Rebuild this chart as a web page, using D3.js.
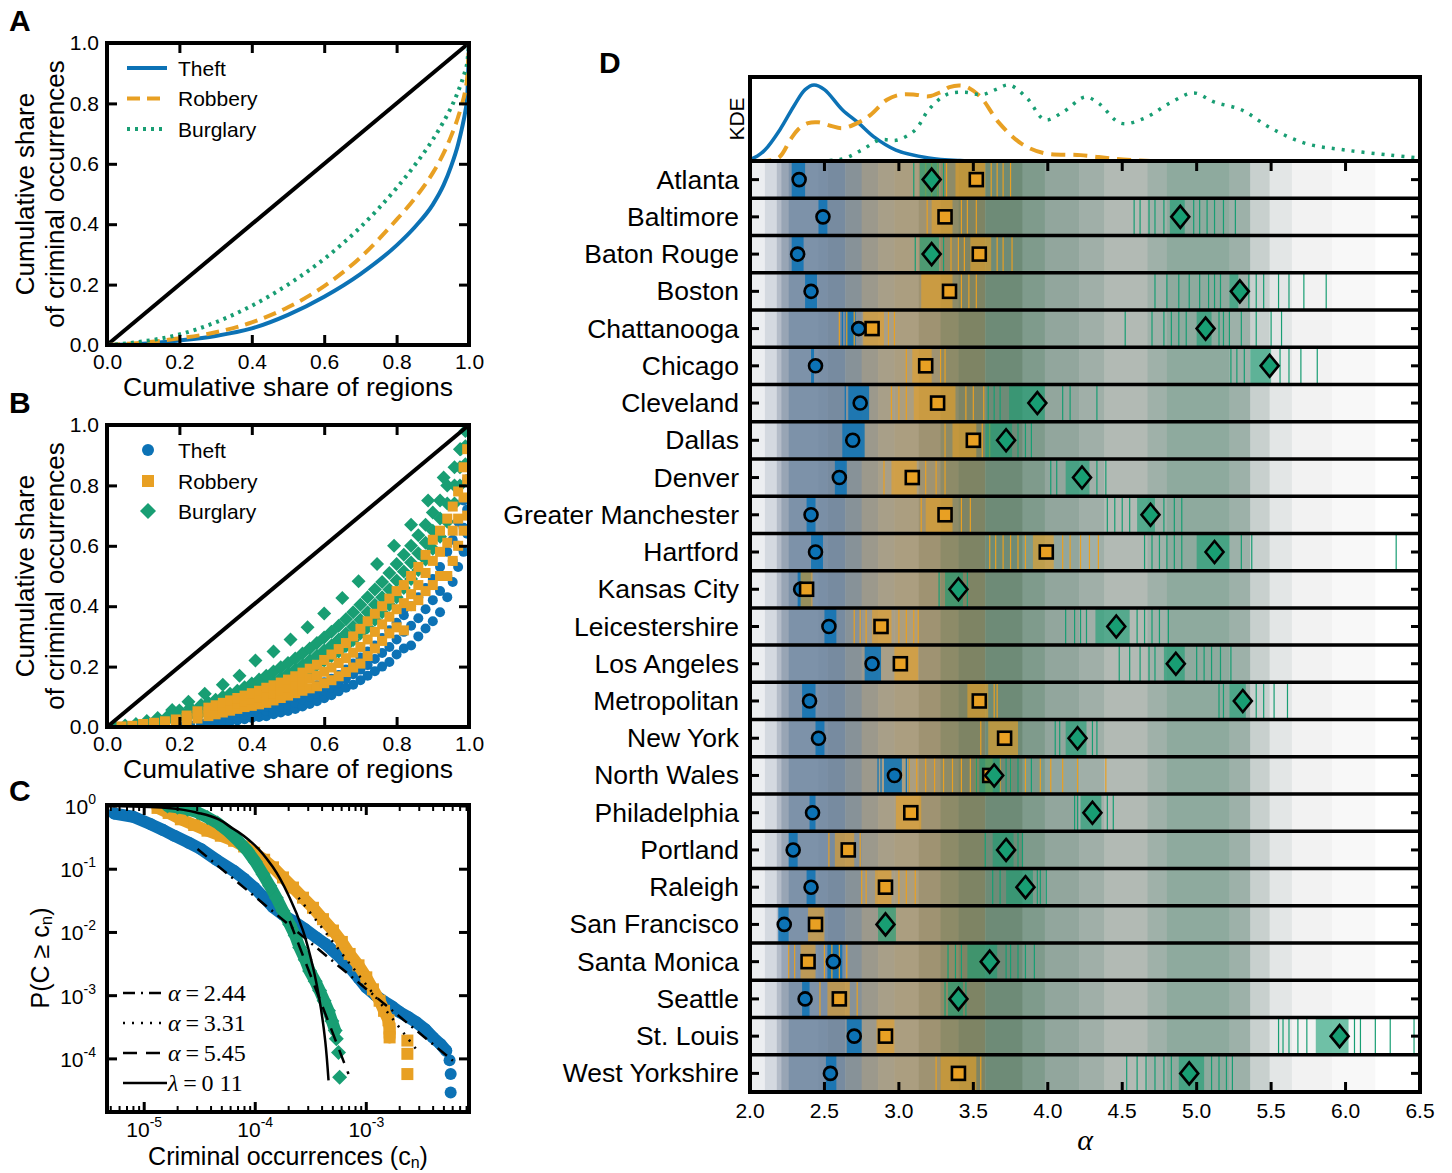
<!DOCTYPE html>
<html><head><meta charset="utf-8">
<script src="https://cdn.jsdelivr.net/npm/d3@7"></script>
<style>
body{margin:0;background:#fff}
svg{display:block}
text{font-family:"Liberation Sans",Arial,Helvetica,sans-serif;fill:#000}
</style>
</head><body>
<svg id="c" width="1452" height="1173"></svg>
<script>
// ---------------- DATA ----------------
// Panel A: Lorenz curves
const lorenzX        = [0,0.1,0.2,0.3,0.4,0.5,0.6,0.7,0.8,0.85,0.9,0.93,0.95,0.97,0.98,0.99,0.995,1.0];
const lorenzTheft    = [0,0.004,0.015,0.03,0.055,0.1,0.16,0.235,0.33,0.39,0.465,0.53,0.59,0.665,0.715,0.775,0.82,1.0];
const lorenzRobbery  = [0,0.008,0.022,0.042,0.075,0.125,0.195,0.29,0.415,0.485,0.57,0.635,0.69,0.755,0.795,0.845,0.885,1.0];
const lorenzBurglary = [0,0.012,0.035,0.075,0.13,0.2,0.285,0.39,0.52,0.595,0.68,0.74,0.785,0.84,0.872,0.91,0.935,1.0];
const crimeNames = ["Theft","Robbery","Burglary"];
const axisTicks01 = [0,0.2,0.4,0.6,0.8,1.0];

// Panel B: city Lorenz points, [x, [y values]]
const theftB = [[0.2,[0.002]],[0.23,[0.003,0.006]],[0.26,[0.005,0.012]],[0.28,[0.008,0.017]],[0.3,[0.01,0.018,0.025]],
 [0.32,[0.014,0.024,0.033]],[0.34,[0.018,0.03,0.04]],[0.36,[0.022,0.034,0.047]],[0.38,[0.026,0.04,0.052]],[0.4,[0.03,0.044,0.058]],
 [0.42,[0.033,0.048,0.062]],[0.44,[0.036,0.053,0.068]],[0.46,[0.042,0.06,0.076]],[0.48,[0.048,0.066,0.085]],[0.5,[0.053,0.073,0.094]],
 [0.52,[0.06,0.08,0.102]],[0.54,[0.068,0.09,0.115]],[0.56,[0.076,0.1,0.125]],[0.58,[0.085,0.11,0.138]],[0.6,[0.095,0.12,0.148]],
 [0.62,[0.105,0.13,0.16]],[0.64,[0.118,0.145,0.172]],[0.66,[0.13,0.16,0.19]],[0.68,[0.14,0.175,0.21]],[0.7,[0.155,0.19,0.23]],
 [0.72,[0.17,0.205,0.25]],[0.74,[0.185,0.225,0.27]],[0.76,[0.2,0.245,0.295]],[0.78,[0.215,0.265,0.32]],[0.8,[0.24,0.29,0.345]],
 [0.82,[0.26,0.315,0.37,0.39]],[0.84,[0.27,0.335,0.4]],[0.86,[0.3,0.36,0.43]],[0.88,[0.326,0.39,0.46]],[0.9,[0.35,0.42,0.49]],
 [0.92,[0.38,0.45,0.53]],[0.94,[0.43,0.5,0.58]],[0.955,[0.48,0.55,0.62]],[0.97,[0.53,0.6,0.68]],[0.985,[0.58,0.66,0.75]],
 [0.995,[0.64,0.72,0.82]]];
const robberyB = [[0.04,[0.002]],[0.07,[0.004]],[0.1,[0.006,0.01]],[0.13,[0.009,0.014]],[0.16,[0.012,0.019]],[0.19,[0.016,0.025]],
 [0.22,[0.02,0.03,0.038]],[0.25,[0.028,0.04,0.052]],[0.28,[0.036,0.05,0.064]],[0.3,[0.042,0.057,0.072]],
 [0.32,[0.048,0.064,0.08]],[0.34,[0.054,0.07,0.088]],[0.36,[0.06,0.077,0.096]],[0.38,[0.066,0.084,0.104]],
 [0.4,[0.07,0.09,0.112]],[0.42,[0.075,0.097,0.12]],[0.44,[0.08,0.104,0.13]],[0.46,[0.088,0.112,0.138]],
 [0.48,[0.096,0.12,0.147]],[0.5,[0.104,0.13,0.157]],[0.52,[0.112,0.14,0.168]],[0.54,[0.12,0.15,0.18]],
 [0.56,[0.128,0.16,0.193]],[0.58,[0.135,0.17,0.206]],[0.6,[0.145,0.183,0.222]],[0.62,[0.155,0.197,0.24]],
 [0.64,[0.168,0.212,0.258]],[0.66,[0.182,0.228,0.278]],[0.68,[0.197,0.246,0.3]],[0.7,[0.21,0.265,0.325]],
 [0.72,[0.235,0.29,0.35]],[0.74,[0.26,0.315,0.375]],[0.76,[0.285,0.34,0.4]],[0.78,[0.31,0.365,0.425]],
 [0.8,[0.33,0.39,0.45]],[0.82,[0.32,0.41,0.47]],[0.84,[0.4,0.44,0.5]],[0.86,[0.42,0.47,0.53]],
 [0.88,[0.45,0.51,0.57]],[0.9,[0.47,0.55,0.62]],[0.92,[0.5,0.58,0.65]],[0.94,[0.5,0.61,0.69]],
 [0.955,[0.55,0.65,0.73]],[0.97,[0.6,0.69,0.78]],[0.985,[0.65,0.76,0.86]],[0.995,[0.7,0.82,0.92]]];
const burglaryB = [[0.02,[0.002]],[0.05,[0.005]],[0.08,[0.01]],[0.11,[0.015,0.02]],[0.14,[0.022,0.03]],[0.17,[0.028,0.038]],
 [0.2,[0.035,0.045,0.055]],[0.23,[0.042,0.053,0.064]],[0.26,[0.048,0.06,0.073]],[0.28,[0.052,0.066,0.08]],
 [0.3,[0.057,0.073,0.09]],[0.32,[0.062,0.08,0.1]],[0.34,[0.067,0.088,0.11]],[0.36,[0.074,0.097,0.12]],
 [0.38,[0.082,0.106,0.132]],[0.4,[0.09,0.116,0.144]],[0.42,[0.1,0.127,0.157]],[0.44,[0.11,0.138,0.17]],
 [0.46,[0.122,0.15,0.184]],[0.48,[0.134,0.163,0.198]],[0.5,[0.146,0.177,0.212]],[0.52,[0.16,0.19,0.227]],
 [0.54,[0.175,0.205,0.243]],[0.56,[0.19,0.22,0.26]],[0.58,[0.205,0.236,0.278]],[0.6,[0.22,0.253,0.296]],
 [0.62,[0.235,0.27,0.315]],[0.64,[0.25,0.29,0.335]],[0.66,[0.268,0.31,0.357]],[0.68,[0.288,0.332,0.38]],
 [0.7,[0.31,0.355,0.405]],[0.72,[0.33,0.38,0.43]],[0.74,[0.355,0.405,0.455]],[0.76,[0.38,0.43,0.48]],
 [0.78,[0.405,0.455,0.51]],[0.8,[0.43,0.485,0.54]],[0.82,[0.46,0.515,0.57]],[0.84,[0.49,0.545,0.6]],
 [0.86,[0.52,0.575,0.635]],[0.88,[0.555,0.61,0.67]],[0.9,[0.59,0.65,0.71]],[0.92,[0.63,0.69,0.75]],
 [0.94,[0.68,0.74,0.8]],[0.96,[0.74,0.8,0.86]],[0.975,[0.8,0.86,0.92]],[0.99,[0.87,0.93,0.98]],
 [0.18,[0.056]],[0.225,[0.084]],[0.27,[0.11]],[0.32,[0.14]],[0.366,[0.17]],[0.41,[0.22]],[0.46,[0.25]],[0.507,[0.29]],
 [0.554,[0.33]],[0.6,[0.376]],[0.65,[0.427]],[0.695,[0.483]],[0.746,[0.54]],[0.793,[0.6]],[0.84,[0.67]],[0.887,[0.75]],
 [0.93,[0.826]],[0.977,[0.92]]];

// Panel C: CCDF, [log10 c, log10 P]
const theftC = [[-5.27,-0.12],[-5.1,-0.17],[-4.94,-0.29],[-4.83,-0.38],[-4.73,-0.47],[-4.6,-0.58],[-4.49,-0.68],[-4.35,-0.85],
 [-4.19,-1.03],[-4.1,-1.15],[-4.01,-1.29],[-3.92,-1.45],[-3.84,-1.6],[-3.75,-1.72],[-3.66,-1.82],[-3.55,-1.95],[-3.45,-2.08],
 [-3.37,-2.18],[-3.30,-2.29],[-3.22,-2.42],[-3.15,-2.55],[-3.07,-2.72],[-3.0,-2.87],[-2.92,-2.99],[-2.85,-3.08],[-2.77,-3.17],
 [-2.70,-3.26],[-2.62,-3.34],[-2.55,-3.42],[-2.47,-3.53],[-2.40,-3.66],[-2.33,-3.77],[-2.28,-3.87]];
const theftCTail = [[-2.25,-4.02],[-2.24,-4.24],[-2.24,-4.53]];
const robberyC = [[-4.88,-0.03],[-4.78,-0.11],[-4.67,-0.21],[-4.55,-0.3],[-4.43,-0.39],[-4.31,-0.47],[-4.19,-0.55],[-4.1,-0.64],
 [-4.01,-0.74],[-3.92,-0.85],[-3.84,-0.97],[-3.75,-1.13],[-3.66,-1.29],[-3.57,-1.45],[-3.48,-1.61],[-3.39,-1.79],[-3.30,-1.97],
 [-3.22,-2.15],[-3.15,-2.34],[-3.07,-2.52],[-3.0,-2.71],[-2.94,-2.9],[-2.88,-3.08],[-2.84,-3.24],[-2.80,-3.39],[-2.79,-3.52],[-2.79,-3.66]];
const robberyCTail = [[-2.63,-3.71],[-2.63,-3.92],[-2.63,-4.24]];
const burglaryC = [[-4.79,0.0],[-4.7,-0.02],[-4.61,-0.05],[-4.52,-0.1],[-4.43,-0.18],[-4.34,-0.27],[-4.25,-0.39],[-4.16,-0.54],
 [-4.07,-0.71],[-4.0,-0.88],[-3.93,-1.08],[-3.87,-1.26],[-3.81,-1.45],[-3.75,-1.66],[-3.69,-1.87],[-3.64,-2.05],[-3.60,-2.24],
 [-3.55,-2.43],[-3.51,-2.61],[-3.46,-2.77],[-3.42,-2.92],[-3.38,-3.08],[-3.34,-3.24],[-3.31,-3.4],[-3.28,-3.55]];
const burglaryCTail = [[-3.27,-3.68],[-3.25,-3.9],[-3.24,-4.29]];
const fitTheft = [[-4.52,-0.68],[-2.22,-4.03]];
const fitRobbery = [[-3.61,-1.45],[-2.54,-3.87]];
const fitBurglary = [[-3.69,-1.82],[-3.16,-4.24]];
const fitExp = [[-5.3,0],[-4.79,-0.03],[-4.49,-0.12],[-4.19,-0.37],[-4.01,-0.61],[-3.84,-0.97],[-3.69,-1.45],[-3.57,-1.97],
 [-3.48,-2.55],[-3.42,-3.08],[-3.37,-3.71],[-3.34,-4.34]];
const fitLabels = [["α","2.44"],["α","3.31"],["α","5.45"],["λ","0 11"]];
const cMajorX = [-5,-4,-3];
const cMajorY = [0,-1,-2,-3,-4];

// Panel D
const cities = ["Atlanta","Baltimore","Baton Rouge","Boston","Chattanooga","Chicago","Cleveland","Dallas","Denver",
 "Greater Manchester","Hartford","Kansas City","Leicestershire","Los Angeles","Metropolitan","New York","North Wales",
 "Philadelphia","Portland","Raleigh","San Francisco","Santa Monica","Seattle","St. Louis","West Yorkshire"];
const theftAlpha   = [2.33,2.49,2.32,2.41,2.73,2.44,2.74,2.69,2.60,2.41,2.44,2.34,2.53,2.82,2.40,2.46,2.97,2.42,2.29,2.41,2.23,2.56,2.37,2.70,2.54];
const robberyAlpha = [3.52,3.31,3.54,3.34,2.82,3.18,3.26,3.50,3.09,3.31,3.99,2.38,2.88,3.01,3.54,3.71,3.61,3.08,2.66,2.91,2.44,2.39,2.60,2.91,3.40];
const burglaryAlpha= [3.22,4.89,3.22,5.29,5.06,5.49,3.93,3.72,4.23,4.69,5.12,3.40,4.46,4.86,5.31,4.20,3.64,4.30,3.72,3.85,2.91,3.61,3.40,5.96,4.95];
const theftCore = [[2.28,2.37],[2.46,2.52],[2.28,2.36],[2.37,2.45],[2.64,2.71],[2.41,2.43],[2.66,2.80],[2.62,2.77],[2.57,2.65],
 [2.38,2.44],[2.41,2.49],[2.32,2.41],[2.50,2.58],[2.77,2.88],[2.35,2.44],[2.44,2.50],[2.90,3.02],[2.40,2.44],[2.26,2.32],
 [2.38,2.44],[2.19,2.26],[2.52,2.62],[2.35,2.40],[2.65,2.75],[2.51,2.58]];
const robberyCore = [[3.38,3.58],[3.22,3.36],[3.48,3.62],[3.15,3.36],[2.76,2.90],[3.09,3.22],[3.10,3.38],[3.36,3.52],[2.95,3.12],
 [3.18,3.36],[3.90,4.04],[2.34,2.42],[2.82,2.95],[2.97,3.13],[3.46,3.60],[3.60,3.80],[3.58,3.63],[2.98,3.15],[2.57,2.70],
 [2.84,2.95],[2.39,2.50],[2.34,2.44],[2.52,2.67],[2.85,2.97],[3.28,3.52]];
const burglaryCore = [[3.14,3.27],[4.82,4.92],[3.14,3.27],[5.22,5.28],[5.00,5.10],[5.36,5.50],[3.74,3.98],[3.58,3.76],[4.12,4.28],
 [4.60,4.72],[5.00,5.22],[3.31,3.43],[4.32,4.55],[4.78,4.92],[5.22,5.33],[4.12,4.26],[3.54,3.68],[4.22,4.36],[3.63,3.77],
 [3.72,3.90],[2.86,2.98],[3.46,3.66],[3.33,3.43],[5.80,6.02],[4.88,5.05]];
const theftLines = [[],[],[],[],[2.62],[],[2.64],[],[],[],[],[],[],[],[],[],[2.86,2.88,3.05,3.07],[],[],[],[],[],[],[],[]];
const robberyLines = [[3.18,3.22,3.26,3.32,3.62,3.66,3.70,3.75],[3.19,3.42,3.46,3.52],[3.35,3.40,3.44,3.66,3.70,3.76],[3.42,3.47,3.52],
 [2.60,2.65,2.70,2.93,2.97],[3.05,3.28,3.31],[2.95,3.00,3.05,3.45,3.50,3.57],[3.31,3.56,3.61],[2.90,3.18,3.25,3.31],
 [3.15,3.42,3.48],[3.61,3.65,3.70,3.75,3.80,3.85,4.10,4.15,4.22,4.28,4.34],[],[2.70,2.74,2.78,3.00,3.05,3.10,3.13],[],
 [3.64,3.66],[3.55],[3.07,3.12,3.18,3.24,3.30,3.36,3.42,3.48,3.52,3.68,3.75,3.85,3.95,4.02,4.10,4.20,4.39],[],[2.53,2.74],
 [2.75,2.78,3.00,3.05,3.11],[],[2.26,2.30,2.50,2.55,2.60,2.65],[2.47,2.72],[],[3.25,3.55]];
const burglaryLines = [[3.10,3.30],[4.58,4.62,4.68,4.72,4.78,4.98,5.02,5.07,5.12,5.18,5.26],[3.11,3.30],
 [4.72,4.80,4.88,4.95,5.02,5.08,5.12,5.16,5.35,5.40,5.45,5.55,5.62,5.72,5.87],
 [4.52,4.70,4.78,4.83,4.88,4.93,5.15,5.18,5.22,5.30,5.40,5.50,5.57],[5.23,5.27,5.32,5.56,5.62,5.70,5.81],
 [3.60,3.64,3.68,4.10,4.15,4.33],[3.80,3.85,3.89],[4.02,4.06,4.33,4.39],[4.40,4.45,4.50,4.55,4.78,4.85,4.90],
 [4.65,4.70,4.75,4.80,4.85,4.90,5.30,5.37,6.34],[3.27,3.46],[4.12,4.18,4.22,4.26,4.60,4.65,4.70,4.75,4.81],
 [4.48,4.55,4.62,4.68,4.72,5.0,5.05,5.1,5.16,5.23],[5.15,5.18,5.40,5.45,5.52,5.61],[4.05,4.08,4.30,4.33],[3.52,3.72,3.75,3.80,3.89],
 [4.18,4.20,4.40,4.44],[3.58,3.80,3.83],[3.63,3.68,3.93,3.95,3.99],[],[3.33,3.38,3.42,3.72,3.75,3.80,3.85,3.91],[3.31,3.45],
 [5.55,5.58,5.62,5.68,5.74,6.06,6.10,6.20,6.30,6.46],[4.53,4.60,4.66,4.72,4.78,4.83,5.10,5.15,5.20,5.24]];
// Background colour bands along alpha
const bgEdges = [2.0,2.01,2.10,2.18,2.21,2.26,2.46,2.52,2.64,2.75,2.86,2.97,3.13,3.28,3.40,3.58,3.83,3.98,4.21,4.38,4.67,4.80,5.22,5.36,5.49,5.64,5.91,6.20,6.5];
const bgColors = ["#f4f4f6","#eceef1","#d4d9e0","#b4bcc8","#98a5b5","#7d92a9","#7a8fa6","#778ba0","#879298","#9c998c","#a89f88",
 "#ab9e80","#9f9372","#8d8b68","#7e8464","#6e8b77","#7f9b8c","#92a69d","#a0afa8","#b2bab4","#9fb1a9","#8eaa9e","#9db1a9",
 "#c8d0ce","#e3e6e6","#f2f2f2","#f8f8f8","#ffffff"];
// KDE curves [alpha, density (relative to box height)]
const kdeTheft = [[2.0,0.02],[2.05,0.06],[2.10,0.13],[2.20,0.37],[2.30,0.67],[2.37,0.85],[2.43,0.905],[2.50,0.85],[2.62,0.61],
 [2.73,0.45],[2.83,0.29],[2.98,0.13],[3.20,0.036],[3.41,0.005],[3.6,0]];
const kdeRobbery = [[2.05,0],[2.19,0.036],[2.27,0.25],[2.32,0.37],[2.39,0.45],[2.46,0.46],[2.54,0.42],[2.62,0.39],[2.73,0.46],
 [2.81,0.55],[2.92,0.73],[3.01,0.79],[3.11,0.79],[3.20,0.77],[3.28,0.82],[3.34,0.88],[3.41,0.9],[3.46,0.88],[3.55,0.76],
 [3.67,0.46],[3.82,0.21],[3.97,0.095],[4.22,0.07],[4.46,0.024],[4.69,0]];
const kdeBurglary = [[2.40,0],[2.62,0.024],[2.75,0.13],[2.87,0.25],[2.99,0.25],[3.11,0.37],[3.20,0.61],[3.32,0.79],[3.44,0.82],
 [3.56,0.79],[3.65,0.85],[3.74,0.905],[3.86,0.75],[3.98,0.49],[4.10,0.58],[4.25,0.76],[4.34,0.69],[4.49,0.45],[4.65,0.51],
 [4.82,0.69],[4.98,0.81],[5.12,0.70],[5.30,0.61],[5.49,0.40],[5.73,0.21],[6.00,0.13],[6.30,0.07],[6.49,0.036]];
const dTicks = [2.0,2.5,3.0,3.5,4.0,4.5,5.0,5.5,6.0,6.5];

// ---------------- STYLE ----------------
const BLUE="#0c72b5", ORANGE="#e8a023", GREEN="#189e73";
const svg = d3.select("#c");

function styleAxis(sel, fs){
  sel.select(".domain").remove();
  sel.attr("font-size",null).attr("font-family",null);
  sel.selectAll(".tick line").attr("stroke","#000").attr("stroke-width",3);
  sel.selectAll(".tick text").style("font-size",fs+"px").attr("fill","#000");
}
function frameRect(g,x0,y0,x1,y1){
  g.append("rect").attr("x",x0).attr("y",y0).attr("width",x1-x0).attr("height",y1-y0)
   .attr("fill","none").attr("stroke","#000").attr("stroke-width",4);
}
function panelLabel(t,x,y){
  svg.append("text").attr("x",x).attr("y",y).text(t).style("font-size","30px").style("font-weight","bold");
}
function diamondPath(w,h){ return `M0,${-h}L${w},0L0,${h}L${-w},0Z`; }
function linearAxes(g,xs,ys){
  const [x0,x1]=xs.range(), [y0,y1]=ys.range();
  g.append("g").attr("transform",`translate(0,${y0})`)
   .call(d3.axisBottom(xs).tickValues(axisTicks01).tickSize(-10).tickPadding(9).tickFormat(d3.format(".1f")))
   .call(s=>styleAxis(s,21));
  g.append("g").attr("transform",`translate(0,${y1})`)
   .call(d3.axisTop(xs).tickValues(axisTicks01).tickSize(-10).tickFormat(""))
   .call(s=>styleAxis(s,21));
  g.append("g").attr("transform",`translate(${x0},0)`)
   .call(d3.axisLeft(ys).tickValues(axisTicks01).tickSize(-10).tickPadding(8).tickFormat(d3.format(".1f")))
   .call(s=>styleAxis(s,21));
  g.append("g").attr("transform",`translate(${x1},0)`)
   .call(d3.axisRight(ys).tickValues(axisTicks01).tickSize(-10).tickFormat(""))
   .call(s=>styleAxis(s,21));
}
function yTitle2(cx1,cx2,cy){
  [["Cumulative share",cx1],["of criminal occurrences",cx2]].forEach(([t,cx])=>{
    svg.append("text").attr("transform",`translate(${cx},${cy}) rotate(-90)`).attr("text-anchor","middle")
      .attr("dominant-baseline","central").style("font-size","26px").text(t);
  });
}

// ---------------- PANEL A ----------------
{
  const xs=d3.scaleLinear().domain([0,1]).range([107,469]);
  const ys=d3.scaleLinear().domain([0,1]).range([345,43]);
  const g=svg.append("g");
  svg.append("clipPath").attr("id","clipA").append("rect").attr("x",107).attr("y",43).attr("width",362).attr("height",302);
  const pg=g.append("g").attr("clip-path","url(#clipA)");
  pg.append("line").attr("x1",xs(0)).attr("y1",ys(0)).attr("x2",xs(1)).attr("y2",ys(1)).attr("stroke","#000").attr("stroke-width",4);
  const ln=(ys2)=>d3.line().x((d,i)=>xs(lorenzX[i])).y(d=>ys(d)).curve(d3.curveMonotoneX)(ys2);
  const series=[[lorenzTheft,BLUE,null],[lorenzRobbery,ORANGE,"13,7"],[lorenzBurglary,GREEN,"3,5"]];
  series.forEach(([d,c,da])=>{
    pg.append("path").attr("d",ln(d)).attr("fill","none").attr("stroke",c).attr("stroke-width",4)
      .attr("stroke-dasharray",da);
  });
  linearAxes(g,xs,ys);
  frameRect(g,107,43,469,345);
  series.forEach(([d,c,da],i)=>{
    const y=68+i*30.5;
    g.append("line").attr("x1",127).attr("x2",167).attr("y1",y).attr("y2",y).attr("stroke",c).attr("stroke-width",4).attr("stroke-dasharray",da);
    g.append("text").attr("x",178).attr("y",y).attr("dominant-baseline","central").style("font-size","21px").text(crimeNames[i]);
  });
  svg.append("text").attr("x",288).attr("y",387).attr("text-anchor","middle").attr("dominant-baseline","central")
    .style("font-size","26.5px").text("Cumulative share of regions");
  yTitle2(25,55,194);
  panelLabel("A",9,31);
}

// ---------------- PANEL B ----------------
{
  const xs=d3.scaleLinear().domain([0,1]).range([107,469]);
  const ys=d3.scaleLinear().domain([0,1]).range([727,425]);
  const g=svg.append("g");
  svg.append("clipPath").attr("id","clipB").append("rect").attr("x",107).attr("y",425).attr("width",362).attr("height",302);
  const pg=g.append("g").attr("clip-path","url(#clipB)");
  const flat=(arr)=>arr.flatMap(([x,yv])=>yv.map(y=>[x,y]));
  pg.selectAll("path.bur").data(flat(burglaryB)).join("path").attr("class","bur")
    .attr("transform",d=>`translate(${xs(d[0])},${ys(d[1])})`).attr("d",diamondPath(7,7)).attr("fill",GREEN);
  pg.selectAll("circle.th").data(flat(theftB)).join("circle").attr("class","th")
    .attr("cx",d=>xs(d[0])).attr("cy",d=>ys(d[1])).attr("r",5).attr("fill",BLUE);
  pg.selectAll("rect.rob").data(flat(robberyB)).join("rect").attr("class","rob")
    .attr("x",d=>xs(d[0])-5).attr("y",d=>ys(d[1])-5).attr("width",10).attr("height",10).attr("fill",ORANGE);
  pg.append("line").attr("x1",xs(0)).attr("y1",ys(0)).attr("x2",xs(1)).attr("y2",ys(1)).attr("stroke","#000").attr("stroke-width",4);
  linearAxes(g,xs,ys);
  frameRect(g,107,425,469,727);
  const ly=[450,481,511];
  g.append("circle").attr("cx",148).attr("cy",ly[0]).attr("r",6).attr("fill",BLUE);
  g.append("rect").attr("x",142).attr("y",ly[1]-6).attr("width",12).attr("height",12).attr("fill",ORANGE);
  g.append("path").attr("transform",`translate(148,${ly[2]})`).attr("d",diamondPath(8,8)).attr("fill",GREEN);
  crimeNames.forEach((n,i)=>g.append("text").attr("x",178).attr("y",ly[i]).attr("dominant-baseline","central").style("font-size","21px").text(n));
  svg.append("text").attr("x",288).attr("y",769).attr("text-anchor","middle").attr("dominant-baseline","central")
    .style("font-size","26.5px").text("Cumulative share of regions");
  yTitle2(25,55,576);
  panelLabel("B",9,413);
}

// ---------------- PANEL C ----------------
{
  const xs=d3.scaleLog().domain([Math.pow(10,-5.335),Math.pow(10,-2.075)]).range([107,469]);
  const ys=d3.scaleLog().domain([1,Math.pow(10,-4.84)]).range([806,1112]);
  const P=(d)=>[xs(Math.pow(10,d[0])),ys(Math.pow(10,d[1]))];
  const g=svg.append("g");
  svg.append("clipPath").attr("id","clipC").append("rect").attr("x",107).attr("y",805).attr("width",362).attr("height",307);
  const pg=g.append("g").attr("clip-path","url(#clipC)");
  const lineGen=d3.line().x(d=>P(d)[0]).y(d=>P(d)[1]);
  const band=(arr,c)=>pg.append("path").attr("d",lineGen(arr)).attr("fill","none").attr("stroke",c)
      .attr("stroke-width",12).attr("stroke-linecap","round").attr("stroke-linejoin","round");
  band(theftC,BLUE);
  pg.selectAll("circle.tc").data(theftC.concat(theftCTail)).join("circle").attr("class","tc")
    .attr("cx",d=>P(d)[0]).attr("cy",d=>P(d)[1]).attr("r",6).attr("fill",BLUE);
  band(robberyC,ORANGE);
  pg.selectAll("rect.rc").data(robberyC.concat(robberyCTail)).join("rect").attr("class","rc")
    .attr("x",d=>P(d)[0]-6).attr("y",d=>P(d)[1]-6).attr("width",12).attr("height",12).attr("fill",ORANGE);
  band(burglaryC,GREEN);
  pg.selectAll("path.bc").data(burglaryC.concat(burglaryCTail)).join("path").attr("class","bc")
    .attr("transform",d=>`translate(${P(d)[0]},${P(d)[1]})`).attr("d",diamondPath(7.5,7.5)).attr("fill",GREEN);
  const fits=[[fitTheft,"12,6,2,6"],[fitRobbery,"2,7"],[fitBurglary,"14,9"],[fitExp,null]];
  fits.forEach(([d,da])=>pg.append("path").attr("d",d3.line().x(p=>P(p)[0]).y(p=>P(p)[1]).curve(d3.curveMonotoneY)(d))
     .attr("fill","none").attr("stroke","#000").attr("stroke-width",2.5).attr("stroke-dasharray",da));
  const tk=g.append("g").attr("stroke","#000");
  for(let e=-6;e<=-2;e++){
    for(let k=1;k<10;k++){
      const v=k*Math.pow(10,e);
      if(v<xs.domain()[0]||v>xs.domain()[1]) continue;
      const L=k===1?10:6, x=xs(v);
      tk.append("line").attr("x1",x).attr("x2",x).attr("y1",1112).attr("y2",1112-L).attr("stroke-width",k===1?3:2);
      tk.append("line").attr("x1",x).attr("x2",x).attr("y1",805).attr("y2",805+L).attr("stroke-width",k===1?3:2);
    }
  }
  cMajorY.forEach(e=>{
    const y=ys(Math.pow(10,e));
    tk.append("line").attr("x1",107).attr("x2",117).attr("y1",y).attr("y2",y).attr("stroke-width",3);
    tk.append("line").attr("x1",459).attr("x2",469).attr("y1",y).attr("y2",y).attr("stroke-width",3);
    const t=g.append("text").attr("x",96).attr("y",y+8).attr("text-anchor","end").style("font-size","21px");
    t.append("tspan").text("10");
    t.append("tspan").attr("dy",-10).style("font-size","14px").text(String(e));
  });
  cMajorX.forEach(e=>{
    const x=xs(Math.pow(10,e));
    const t=g.append("text").attr("x",x).attr("y",1137).attr("text-anchor","middle").style("font-size","21px");
    t.append("tspan").text("10");
    t.append("tspan").attr("dy",-10).style("font-size","14px").text(String(e));
  });
  frameRect(g,107,805,469,1112);
  const las=["12,6,2,6","2,7","14,9",null];
  las.forEach((da,i)=>{
    const y=993+i*30;
    g.append("line").attr("x1",123).attr("x2",167).attr("y1",y).attr("y2",y).attr("stroke","#000").attr("stroke-width",2.5).attr("stroke-dasharray",da);
    const t=g.append("text").attr("x",168).attr("y",y).attr("dominant-baseline","central")
      .style("font-family",'"Liberation Serif","DejaVu Serif",serif').style("font-size","24px");
    t.append("tspan").style("font-style","italic").text(fitLabels[i][0]);
    t.append("tspan").text("\u2009=\u2009"+fitLabels[i][1]);
  });
  const yl=svg.append("text").attr("transform","translate(40,958) rotate(-90)").attr("text-anchor","middle")
    .attr("dominant-baseline","central").style("font-size","25px");
  yl.append("tspan").text("P(C \u2265 c");
  yl.append("tspan").attr("dy",6).style("font-size","17px").text("n");
  yl.append("tspan").attr("dy",-6).text(")");
  const xl=svg.append("text").attr("x",288).attr("y",1165).attr("text-anchor","middle").style("font-size","25px");
  xl.append("tspan").text("Criminal occurrences (c");
  xl.append("tspan").attr("dy",3).style("font-size","16px").text("n");
  xl.append("tspan").attr("dy",-3).text(")");
  panelLabel("C",9,801);
}

// ---------------- PANEL D ----------------
{
  const xs=d3.scaleLinear().domain([2,6.5]).range([750,1420]);
  const ys=d3.scaleBand().domain(cities).range([161,1092]);
  const g=svg.append("g");
  const top=161, bot=1092;
  g.selectAll("rect.bg").data(bgColors).join("rect").attr("class","bg")
    .attr("x",(d,i)=>xs(bgEdges[i])).attr("width",(d,i)=>xs(bgEdges[i+1])-xs(bgEdges[i])+0.5)
    .attr("y",top).attr("height",bot-top).attr("fill",d=>d);
  const crimes=[[theftCore,theftLines,BLUE,0.85],[robberyCore,robberyLines,ORANGE,0.6],[burglaryCore,burglaryLines,GREEN,0.6]];
  cities.forEach((c,i)=>{
    const y0=ys(c), h=ys.bandwidth();
    crimes.forEach(([core,lines,col,op])=>{
      const [lo,hi]=core[i];
      g.append("rect").attr("x",xs(lo)).attr("width",xs(hi)-xs(lo)).attr("y",y0).attr("height",h)
        .attr("fill",col).attr("opacity",op);
      lines[i].forEach(v=>g.append("line").attr("x1",xs(v)).attr("x2",xs(v)).attr("y1",y0).attr("y2",y0+h)
        .attr("stroke",col).attr("stroke-width",1.2));
    });
  });
  for(let i=0;i<=cities.length;i++){
    const y=top+i*ys.bandwidth();
    g.append("line").attr("x1",750).attr("x2",1420).attr("y1",y).attr("y2",y).attr("stroke","#000").attr("stroke-width",3.5);
  }
  g.append("line").attr("x1",750).attr("x2",750).attr("y1",top).attr("y2",bot).attr("stroke","#000").attr("stroke-width",4);
  g.append("line").attr("x1",1420).attr("x2",1420).attr("y1",top).attr("y2",bot).attr("stroke","#000").attr("stroke-width",4);
  g.append("line").attr("x1",748).attr("x2",1422).attr("y1",bot).attr("y2",bot).attr("stroke","#000").attr("stroke-width",4);
  cities.forEach(c=>{
    const y=ys(c)+ys.bandwidth()/2;
    g.append("line").attr("x1",750).attr("x2",759).attr("y1",y).attr("y2",y).attr("stroke","#000").attr("stroke-width",3);
    g.append("line").attr("x1",1411).attr("x2",1420).attr("y1",y).attr("y2",y).attr("stroke","#000").attr("stroke-width",3);
    g.append("text").attr("x",739).attr("y",y).attr("text-anchor","end").attr("dominant-baseline","central")
      .style("font-size","26.5px").text(c);
  });
  dTicks.forEach(v=>{
    const x=xs(v);
    if(v>2 && v<6.5){
      g.append("line").attr("x1",x).attr("x2",x).attr("y1",bot).attr("y2",bot-10).attr("stroke","#000").attr("stroke-width",3);
      g.append("line").attr("x1",x).attr("x2",x).attr("y1",top).attr("y2",top+10).attr("stroke","#000").attr("stroke-width",3);
    }
    g.append("text").attr("x",x).attr("y",1110).attr("text-anchor","middle").attr("dominant-baseline","central")
      .style("font-size","21px").text(d3.format(".1f")(v));
  });
  cities.forEach((c,i)=>{
    const y=ys(c)+ys.bandwidth()/2;
    g.append("circle").attr("cx",xs(theftAlpha[i])).attr("cy",y).attr("r",6.5).attr("fill",BLUE).attr("stroke","#000").attr("stroke-width",2.6);
    g.append("rect").attr("x",xs(robberyAlpha[i])-6.5).attr("y",y-6.5).attr("width",13).attr("height",13)
      .attr("fill",ORANGE).attr("stroke","#000").attr("stroke-width",2.6);
    g.append("path").attr("transform",`translate(${xs(burglaryAlpha[i])},${y})`).attr("d",diamondPath(9,11))
      .attr("fill",GREEN).attr("stroke","#000").attr("stroke-width",2.6);
  });
  const ky=d3.scaleLinear().domain([0,1]).range([161,77]);
  svg.append("clipPath").attr("id","clipK").append("rect").attr("x",752).attr("y",79).attr("width",666).attr("height",80);
  const kg=g.append("g").attr("clip-path","url(#clipK)");
  const kl=d3.line().x(d=>xs(d[0])).y(d=>ky(d[1])).curve(d3.curveCatmullRom);
  kg.append("path").attr("d",kl(kdeTheft)).attr("fill","none").attr("stroke",BLUE).attr("stroke-width",3.5);
  kg.append("path").attr("d",kl(kdeRobbery)).attr("fill","none").attr("stroke",ORANGE).attr("stroke-width",4).attr("stroke-dasharray","14,8");
  kg.append("path").attr("d",kl(kdeBurglary)).attr("fill","none").attr("stroke",GREEN).attr("stroke-width",3.5).attr("stroke-dasharray","3,7");
  frameRect(g,750,77,1420,161);
  svg.append("text").attr("transform","translate(736,119) rotate(-90)").attr("text-anchor","middle")
    .attr("dominant-baseline","central").style("font-size","21px").text("KDE");
  svg.append("text").attr("x",1085).attr("y",1150).attr("text-anchor","middle")
    .style("font-family",'"Liberation Serif","DejaVu Serif",serif').style("font-style","italic").style("font-size","30px").text("α");
  panelLabel("D",599,73);
}
</script>
</body></html>
